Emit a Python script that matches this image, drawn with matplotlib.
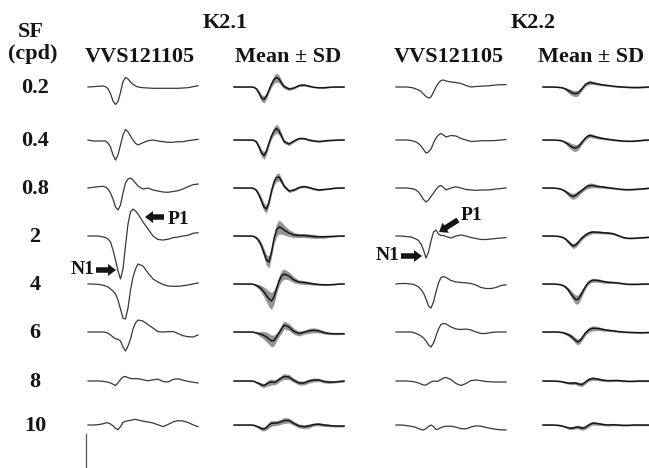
import matplotlib.pyplot as plt
from matplotlib.patches import FancyArrow
import numpy as np
import matplotlib
matplotlib.rcParams['font.family'] = ['Liberation Serif', 'DejaVu Serif']

W, H = 649, 468
INK = '#151515'
TRACE = '#383838'
BAND = '#959595'

# ─── data ──────────────────────────────────────────────────────
# sample times (ms after stimulus onset)
t_ms = [0, 10, 20, 30, 35, 40, 45, 50, 55, 60, 65, 70, 75, 80, 85, 90, 95,
        100, 110, 120, 130, 140, 150, 160, 170, 180, 190, 200, 210, 220]

sf_labels = ['0.2', '0.4', '0.8', '2', '4', '6', '8', '10']

# K2.1, single animal VVS121105 (one row per SF)
k21_single = [
    [0, 0.3, 0.7, 1, 0.3, -1.7, -6.7, -14, -17.5, -14.5, -5.5, 5.5, 9.5, 8, 5,
     2.7, 1, 0, -0.7, -1, -1.3, -1.3, -1.3, -1.3, -1.3, -1.3, -1, -0.7, 0.3, 1.3],
    [0, -1, -1, -1, -1, -3, -7, -15, -20, -15, -5, 5, 10.5, 8.3, 4,
     0, -3.3, -5, -2.7, -0.7, 0, -1, -1.7, -2.3, -2.3, -1.7, -1.7, -0.7, 0, 0.7],
    [0, 0.7, 1.3, 1.7, 1, -1, -5, -11, -19, -22, -17, -5, 5, 9, 10,
     8, 5, 2, -1, 0, -2, -3, -4, -4.3, -3.5, -2.7, -1, 1.3, 3.3, 4],
    [0, 0, 0, -1, -1.5, -3, -6, -14, -24, -35, -43, -33, -10, 12, 24,
     27, 25, 22, 14, 7, 0, -3.5, -4, -3.3, -1.7, -1, 0, 0.7, 2.7, 3.3],
    [0, 0, -0.3, -1.3, -2, -3, -5, -7, -10, -16, -25, -34, -35, -24, -6,
     7, 15, 20, 18, 11, 5, 2, -0.5, -2, -2.3, -2.3, -1.7, -1, 0, 1],
    [0, 0, 0, 0, -0.3, -1.3, -3, -5, -6.7, -7.3, -9, -15, -19, -14, -7,
     3, 9, 12, 11, 7.3, 4, 0.3, 0, 0.3, 0.5, -1.5, -3.7, -4.7, -5, -3],
    [0, 0, 0, -0.3, -0.7, -1.2, -2, -3.2, -4.5, -2, 1.5, 4, 4.5, 3.3, 2.5,
     2.3, 2.3, 2.3, 1.3, 0.2, 1.2, 1.8, -0.5, -1, 1.5, 2.2, 0.8, -0.3, -1.2, -2],
    [0, 0, 0.3, 1.2, 2, 2.2, 1, -0.8, -3.3, -4.7, -1.7, 2.5, 3.7, 4.2, 4.7,
     5.2, 5.7, 5, 3.8, 3, 2, 0.2, -1.6, 0.5, 3, 4.4, 4, 2.5, 0.2, -1.7],
]

# K2.1, group mean and SD
k21_mean = [
    [0, 0, 0, 0, 0, -0.3, -2, -6, -11, -12.5, -9, -3, 3, 7.5, 9.5,
     8, 4, 0.5, -2, -1, 1.5, 2, 0.8, -0.3, -0.8, -0.8, -0.3, 0, 0, 0],
    [0, 0, 0, 0, 0, -0.3, -2, -7, -13, -15.5, -11, -3, 4, 9, 11.5,
     9, 4, -1.5, -4, -1, 1.5, 1.5, 0, -1, -1.5, -1, -0.5, -0.3, 0, 0],
    [0, 0, 0, 0, 0, -0.5, -2.5, -7, -13, -19, -21, -14, -3, 6, 10.5,
     11, 7, 2, -3, -2, 0.5, 1.5, 0.5, -1, -2, -1.5, -1, -0.3, 0, 0],
    [0, 0, 0, 0, 0, -0.5, -2, -5, -10, -17, -24, -26, -16, -3, 6,
     9, 8, 6, 3, 1, 0.5, 0.5, 0, -0.5, -0.8, -0.8, -0.5, -0.3, 0, 0],
    [0, 0, 0, 0, 0, -0.5, -1.5, -3, -5, -8, -11.5, -15, -17, -13, -5,
     3, 8, 10, 8, 4, 2, 1.5, 0.8, 0, -0.5, -0.8, -0.8, -0.5, 0, 0],
    [0, 0, 0, 0, 0, -0.3, -1, -1.7, -2.5, -3.5, -5, -7, -9, -8.5, -5,
     -1, 3, 7, 5, 0.5, -1.5, -0.3, 1.2, 1.7, 1, -0.5, -1.5, -1.7, -1.7, -1.7],
    [0, 0, 0, 0, 0, -0.3, -1.5, -2.5, -4, -4.5, -3, -1.5, -1, -1.5, -0.5,
     1.5, 3, 4.5, 4, 0.5, -2, -2, 0, 1, 1, -0.5, -1, -1, -0.5, 0],
    [0, 0, 0, 0, 0, -0.3, -1.2, -2.3, -3.7, -4, -2.5, 0, 1.7, 1.7, 2,
     2.5, 3.3, 4.5, 4.5, 1.5, -1, -1.7, -1, 0.5, 0.8, 0, -0.5, -1, -1, -1],
]
k21_sd = [
    [0.3, 0.3, 0.3, 0.3, 0.3, 0.5, 1.5, 2.5, 3.5, 3.5, 3, 2.5, 3, 4, 4.5,
     4, 3, 2, 1.5, 1, 1, 1, 0.8, 0.5, 0.5, 0.5, 0.5, 0.5, 0.5, 0.5],
    [0.3, 0.3, 0.3, 0.3, 0.3, 0.5, 1.5, 2.5, 3.5, 4, 3.5, 3, 3, 4, 4.5,
     4, 3, 2, 1.5, 1.2, 1, 1, 1, 0.8, 0.8, 0.6, 0.5, 0.5, 0.5, 0.5],
    [0.3, 0.3, 0.3, 0.3, 0.3, 0.5, 1.5, 2.5, 3.5, 4, 4, 3.5, 3, 3.5, 4,
     4, 3, 2, 1.5, 1.2, 1, 1, 1, 1, 0.8, 0.6, 0.5, 0.5, 0.5, 0.5],
    [0.3, 0.3, 0.3, 0.3, 0.3, 0.6, 1.5, 2.5, 3.5, 4.5, 5.5, 6, 5, 5, 6.5,
     7, 6, 5, 3.5, 2.5, 2, 2, 2, 2, 1.5, 1.5, 1, 0.8, 0.5, 0.5],
    [0.3, 0.3, 0.3, 0.3, 0.3, 0.6, 1.5, 2.5, 3.5, 5, 6.5, 8, 8.5, 7, 5,
     5, 5.5, 5, 4, 3, 2, 2, 1.5, 1.2, 0.8, 0.8, 0.6, 0.5, 0.5, 0.5],
    [0.3, 0.3, 0.3, 0.3, 0.3, 0.5, 1, 2, 3, 4, 5, 5.5, 6, 5.5, 4,
     3.5, 4, 4, 3.5, 3, 2.5, 2, 2.5, 2.5, 2, 1.5, 1.2, 1, 1, 0.8],
    [0.3, 0.3, 0.3, 0.3, 0.3, 0.5, 1, 1.5, 2, 2, 2.5, 3, 3, 2.5, 2.5,
     2.5, 2.5, 3, 2.5, 2, 2, 2, 2, 2, 1.5, 1.5, 1.5, 1, 1, 1],
    [0.3, 0.3, 0.3, 0.3, 0.3, 0.5, 1, 1.5, 2, 2, 2.5, 3, 3, 2.5, 2.5,
     2.5, 2.5, 3, 2.5, 2, 2, 2, 2, 1.5, 1.5, 1.5, 1.2, 1, 1, 1],
]

# K2.2, single animal VVS121105
k22_single = [
    [0, 0, 0, -0.5, -1, -2, -3, -4.5, -7, -9.5, -11, -10, -5, 0, 4,
     6.5, 7, 6, 5, 4.5, 3.5, 1.5, 0, 0.5, 0.8, 1, 1.5, 2, 2.3, 2.3],
    [0, 0, 0, -0.5, -1.2, -2, -3.5, -6, -9.5, -13, -12, -9, -3, 2, 5,
     6.5, 5, 3, 4.5, 4, 1.5, 0, -1.5, -1.2, -0.7, -0.7, -0.7, -0.5, 0, 0.5],
    [0, 0, 0, -0.5, -1, -2, -4, -7.5, -11.5, -14, -12, -8.5, -5, -1.5, 1.5,
     2.5, 0.5, -2, 0, 1.2, 0, -1.5, -2, -2.3, -2, -2, -1.7, -1, -0.5, 0],
    [0, 0, -0.5, -1, -2, -3, -4.5, -8, -14, -22, -16, -5, 4, 6, 2,
     0.5, 0.5, -0.5, -2, 0, 1, 0, -1.5, -2.5, -3.5, -3.5, -3, -2.5, -2, -1.5],
    [0, 0.5, 0.5, 0, -0.5, -1.5, -3, -5.5, -9, -15, -22, -24, -18, -8, 1,
     6.5, 7.5, 6.5, 3.5, 2, 1.5, 1.2, 0.5, -1, -3.5, -4.5, -4.5, -3.5, -1.5, -0.8],
    [0, 0, 0, 0, -0.5, -1.5, -2.5, -4, -6, -9, -13, -15, -11, -4, 3,
     7.5, 8.5, 8, 5, 3, 2.5, 3, 2, 0, -1.5, -1.5, -0.5, 0, 0, 0],
    [0, 0, 0, -0.3, -0.7, -1.2, -2, -3, -4, -4, -2.5, -1, 0, -0.5, 0,
     1.5, 3, 3.5, 1.5, -2.5, -4.5, -2.5, 0.5, 1, 0.3, -0.5, -0.8, -1, -1, -1],
    [0, 0, -0.5, -1.3, -1.8, -2.5, -3.5, -4.5, -5, -3.5, -1.5, 0, -1.5, -4.5, -4,
     -2.5, -1.7, -1.3, -1.2, -2.2, -3.7, -3.8, -2, -0.8, -1.2, -2.5, -3.5, -4.3, -4.8, -5],
]

# K2.2, group mean and SD
k22_mean = [
    [0, 0, 0, -0.3, -0.5, -1, -2, -3.5, -5, -6.2, -6.7, -6, -3.5, -0.5, 2.5,
     4, 4.5, 4, 3, 2, 1.5, 0.8, 0.3, 0, -0.3, -0.5, -0.5, -0.3, 0, 0],
    [0, 0, 0, -0.3, -0.5, -1.2, -2.5, -4.2, -6, -7.5, -8, -7, -4, -1, 2,
     4, 4.5, 3.8, 2.5, 1.5, 0.8, 0, -0.5, -1, -1.2, -1.2, -0.8, -0.3, 0, 0],
    [0, 0, 0, -0.5, -1, -2, -3.5, -5.5, -7.5, -8.3, -7.5, -5.5, -3.5, -1.5, 0.5,
     2, 2.5, 2.5, 1.5, 1, 0.3, -0.3, -1, -1.5, -1.7, -1.5, -1.2, -0.8, -0.3, 0],
    [0, 0, 0, -0.3, -0.8, -1.5, -3, -5.5, -8, -10, -9, -6.5, -3.5, -1, 1,
     2.5, 3.5, 4, 3.7, 3.3, 3, 2.3, 0.5, -1.5, -2.3, -2.3, -2, -1.7, -1.3, -1.3],
    [0, 0, 0, -0.3, -0.7, -1.5, -3, -5.5, -9, -12.5, -15.5, -15.5, -11.5, -7, -2.5,
     1, 3, 3.8, 3.5, 2.5, 1.7, 1.5, 1, 0.3, -0.3, -0.3, -0.3, 0, 0, 0],
    [0, 0, 0, 0, -0.3, -0.7, -1.5, -2.5, -4, -6, -8.5, -10, -8, -4.5, -1,
     1.5, 3, 3.7, 3.5, 2.5, 1.7, 1.2, 0.5, 0, -0.3, -0.5, -0.7, -0.7, -0.5, -0.5],
    [0, 0, 0, -0.3, -0.5, -1, -1.5, -2, -2.2, -2, -2, -2.8, -3.5, -3, -1,
     1, 2, 2.5, 1.8, 0.8, 0.3, 0.5, 0.5, 0, -0.3, -0.3, 0, 0, 0, 0],
    [0, 0, 0, -0.3, -0.7, -1.2, -2, -2.8, -3.2, -3, -2.3, -2, -2.8, -3.2, -2.3,
     -0.5, 1, 1.8, 1.3, 0.5, 0, 0.3, 0, -0.3, -0.3, 0, 0, 0, 0, 0],
]
k22_sd = [
    [0.4, 0.4, 0.4, 0.4, 0.5, 0.8, 1.5, 2.2, 2.8, 3, 3, 2.8, 2, 1.8, 1.8,
     2, 2, 1.5, 1.2, 1, 0.8, 0.7, 0.6, 0.6, 0.6, 0.6, 0.6, 0.6, 0.6, 0.6],
    [0.4, 0.4, 0.4, 0.4, 0.5, 0.8, 1.5, 2.5, 3, 3.5, 3.5, 3, 2.5, 2, 2,
     2, 2, 1.8, 1.5, 1.2, 1, 0.8, 0.7, 0.6, 0.6, 0.6, 0.6, 0.6, 0.6, 0.6],
    [0.4, 0.4, 0.4, 0.4, 0.5, 0.8, 1.5, 2.2, 2.8, 3, 3, 2.8, 2.2, 2, 2.2,
     2.5, 2.5, 2.2, 1.5, 1.2, 1, 0.8, 0.7, 0.6, 0.6, 0.6, 0.6, 0.6, 0.6, 0.6],
    [0.4, 0.4, 0.4, 0.4, 0.5, 0.8, 1.2, 1.8, 2.2, 2.5, 2.5, 2.2, 2, 1.8, 1.8,
     1.8, 1.8, 1.5, 1.5, 1.2, 1.2, 1, 0.8, 0.7, 0.6, 0.6, 0.6, 0.6, 0.6, 0.6],
    [0.4, 0.4, 0.4, 0.4, 0.5, 0.8, 1.5, 2.2, 3, 3.8, 4.5, 4.5, 4, 3, 2.2,
     2, 2, 2, 1.8, 1.5, 1.2, 1, 0.8, 0.7, 0.6, 0.6, 0.6, 0.6, 0.6, 0.6],
    [0.4, 0.4, 0.4, 0.4, 0.5, 0.8, 1.2, 1.8, 2.2, 2.5, 3, 3, 2.8, 2.5, 2.2,
     2.5, 2.5, 2.5, 2, 1.5, 1.2, 1, 0.8, 0.7, 0.6, 0.6, 0.6, 0.6, 0.6, 0.6],
    [0.5, 0.5, 0.5, 0.5, 0.6, 0.8, 1, 1.2, 1.5, 1.5, 1.5, 1.8, 2, 2, 1.8,
     1.8, 1.8, 1.8, 1.5, 1.2, 1, 1, 0.8, 0.8, 0.7, 0.7, 0.7, 0.7, 0.7, 0.7],
    [0.5, 0.5, 0.5, 0.5, 0.6, 0.8, 1, 1.2, 1.5, 1.5, 1.5, 1.8, 2, 2, 1.8,
     1.8, 1.8, 1.8, 1.5, 1.2, 1, 1, 0.8, 0.8, 0.7, 0.7, 0.7, 0.7, 0.7, 0.7],
]

SCALE_BAR = 34   # amplitude units covered by the calibration bar

# ─── layout (pixels) ───────────────────────────────────────────
COL_X = [88, 234, 396, 543]          # left edge of each trace column
COL_W = 110                           # 220 ms across
ROW_Y = [87, 140, 188, 236, 284, 332, 381, 425]   # trace baselines
HALF = 50                              # half height of a panel box

fig = plt.figure(figsize=(W / 100, H / 100), dpi=100)
fig.patch.set_facecolor('white')

ax0 = fig.add_axes([0, 0, 1, 1])
ax0.set_xlim(0, W); ax0.set_ylim(H, 0)
ax0.axis('off')


def panel(col, row):
    ax = fig.add_axes([COL_X[col] / W, (H - ROW_Y[row] - HALF) / H,
                       COL_W / W, 2 * HALF / H])
    ax.set_xlim(0, 220); ax.set_ylim(-HALF, HALF)
    ax.axis('off')
    return ax


t = np.array(t_ms)
axes = {}
for r in range(len(sf_labels)):
    for c, (single, mean, sd) in enumerate([(k21_single[r], None, None),
                                            (None, k21_mean[r], k21_sd[r]),
                                            (k22_single[r], None, None),
                                            (None, k22_mean[r], k22_sd[r])]):
        ax = panel(c, r)
        axes[(c, r)] = ax
        if single is not None:
            ax.plot(t, single, color=TRACE, lw=0.9, clip_on=False,
                    solid_joinstyle='round')
        else:
            m, s = np.array(mean), np.array(sd)
            ax.fill_between(t, m - s, m + s, color=BAND, lw=0, clip_on=False)
            ax.plot(t, m, color=INK, lw=1.1, clip_on=False)

# calibration bar under the first column
axes[(0, 7)].plot([-4, -4], [-9, -9 - SCALE_BAR], color='#555555', lw=0.9,
                  clip_on=False)

# ─── text ──────────────────────────────────────────────────────
def txt(x, y, s, fs=16, ha='center'):
    ax0.text(x, y, s, fontsize=fs, fontweight='bold', color=INK,
             ha=ha, va='center')

txt(31, 32, 'SF')
txt(33, 54, '(cpd)')
for lab, y in zip(sf_labels, ROW_Y):
    txt(35, y + 1, lab)

txt(225, 23, 'K2.1')
txt(533, 23, 'K2.2')
txt(140, 57, 'VVS121105')
txt(288, 57, 'Mean ± SD')
txt(449, 57, 'VVS121105')
txt(591, 57, 'Mean ± SD')


# ─── N1 / P1 markers ───────────────────────────────────────────
def block_arrow(x0, y0, x1, y1):
    ax0.add_patch(FancyArrow(x0, y0, x1 - x0, y1 - y0, width=5.5,
                             head_width=12, head_length=8,
                             length_includes_head=True, color=INK, lw=0))

block_arrow(164, 217, 145, 217)
txt(178, 219, 'P1', fs=14)
block_arrow(96, 270, 116, 270)
txt(83, 270, 'N1', fs=14)

block_arrow(458, 220, 439, 232)
txt(471, 215, 'P1', fs=14)
block_arrow(401, 256, 422, 256)
txt(388, 256, 'N1', fs=14)

plt.savefig('out.png', dpi=100, facecolor='white')
plt.close()
